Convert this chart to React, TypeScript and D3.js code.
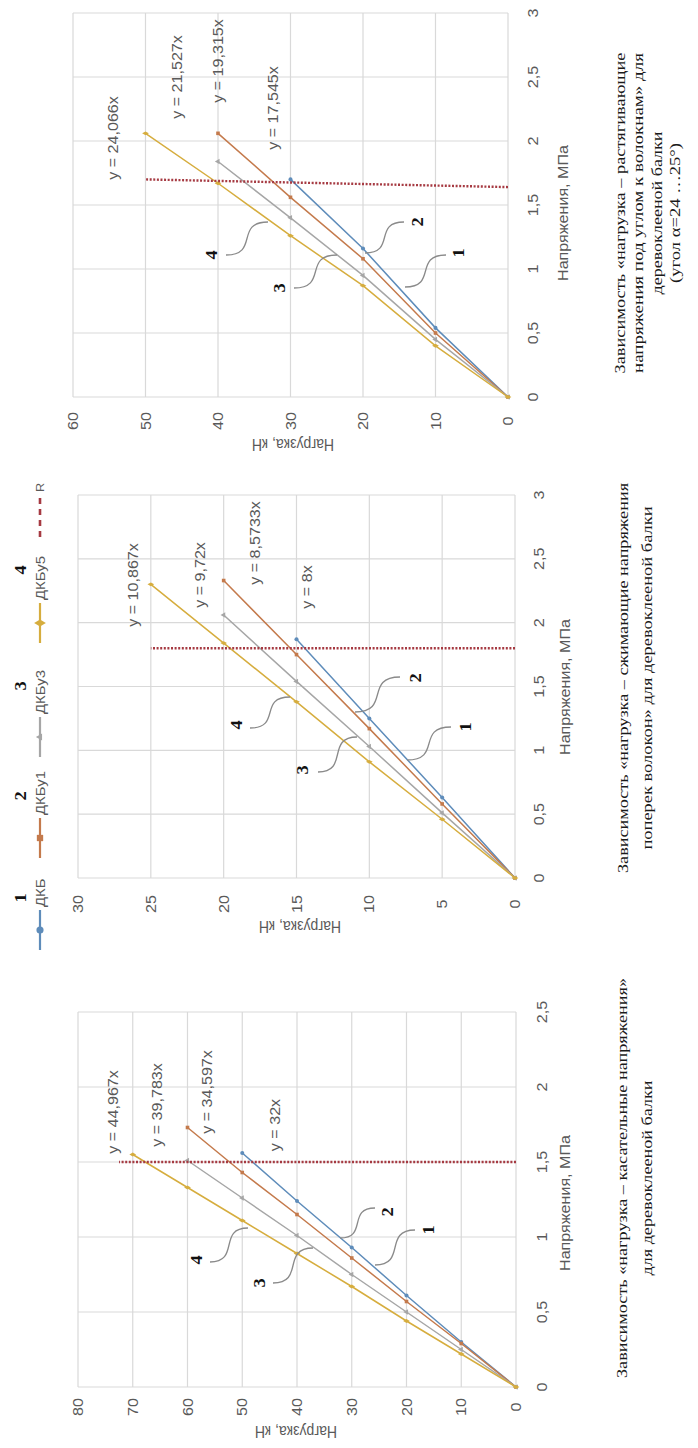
import React from "react";
import * as d3 from "d3";

// ---------- data ----------
const SERIES_NAMES = ["ДКБ", "ДКБу1", "ДКБу3", "ДКБу5"];
const SERIES_NUMS = ["1", "2", "3", "4"];

// Chart 1: растягивающие напряжения под углом к волокнам
const c1Loads = [0, 10, 20, 30, 40, 50];
const c1S1 = [0, 0.54, 1.16, 1.7];
const c1S2 = [0, 0.5, 1.08, 1.56, 2.06];
const c1S3 = [0, 0.45, 0.95, 1.4, 1.84];
const c1S4 = [0, 0.4, 0.87, 1.26, 1.67, 2.06];
const c1Trend = ["y = 17,545x", "y = 19,315x", "y = 21,527x", "y = 24,066x"];
const c1StressTicks = [0, 0.5, 1, 1.5, 2, 2.5, 3];
const c1LoadTicks = [0, 10, 20, 30, 40, 50, 60];
const c1RStress = [1.64, 1.7];
const c1RLoad = [0, 50];
const c1Title = [
  "Зависимость «нагрузка – растягивающие",
  "напряжения под углом к волокнам» для",
  "деревоклееной балки",
  "(угол α=24 …25°)",
];

// Chart 2: сжимающие напряжения поперек волокон
const c2Loads = [0, 5, 10, 15, 20, 25];
const c2S1 = [0, 0.63, 1.25, 1.87];
const c2S2 = [0, 0.58, 1.17, 1.75, 2.33];
const c2S3 = [0, 0.51, 1.03, 1.54, 2.06];
const c2S4 = [0, 0.46, 0.91, 1.38, 1.84, 2.3];
const c2Trend = ["y = 8x", "y = 8,5733x", "y = 9,72x", "y = 10,867x"];
const c2StressTicks = [0, 0.5, 1, 1.5, 2, 2.5, 3];
const c2LoadTicks = [0, 5, 10, 15, 20, 25, 30];
const c2RStress = [1.8, 1.8];
const c2RLoad = [0, 25];
const c2Title = [
  "Зависимость «нагрузка – сжимающие напряжения",
  "поперек волокон» для деревоклееной балки",
];

// Chart 3: касательные напряжения
const c3Loads = [0, 10, 20, 30, 40, 50, 60, 70];
const c3S1 = [0, 0.3, 0.61, 0.93, 1.24, 1.56];
const c3S2 = [0, 0.29, 0.57, 0.86, 1.15, 1.43, 1.73];
const c3S3 = [0, 0.25, 0.5, 0.75, 1.01, 1.26, 1.51];
const c3S4 = [0, 0.22, 0.44, 0.67, 0.89, 1.11, 1.33, 1.55];
const c3Trend = ["y = 32x", "y = 34,597x", "y = 39,783x", "y = 44,967x"];
const c3StressTicks = [0, 0.5, 1, 1.5, 2, 2.5];
const c3LoadTicks = [0, 10, 20, 30, 40, 50, 60, 70, 80];
const c3RStress = [1.5, 1.5];
const c3RLoad = [0, 72.5];
const c3Title = [
  "Зависимость «нагрузка – касательные напряжения»",
  "для деревоклееной балки",
];

// ---------- styles ----------
const COLORS = ["#5e8cba", "#c47a4c", "#a6a6a6", "#d6ad3e"];
const R_COLOR = "#a63a42";
const GRID = "#d9d9d9";
const TXT = "#595959";
const SANS = "'Liberation Sans', Arial, sans-serif";
const SERIF = "'Liberation Serif', 'Times New Roman', serif";
const SX = 1.15;
const SYMBOLS = [d3.symbolCircle, d3.symbolSquare, d3.symbolTriangle, d3.symbolDiamond];

type Pt = [number, number];
type Annot = { num: string; at: Pt; from: Pt; to: Pt };

interface ChartCfg {
  ty: number;
  stressMax: number;
  loadMax: number;
  uRange: [number, number];
  vRange: [number, number];
  stressTicks: number[];
  loadTicks: number[];
  loads: number[];
  series: number[][];
  trend: string[];
  trendPos: Pt[];
  rStress: number[];
  rLoad: number[];
  stressLabelX: number;
  stressTitle: Pt;
  loadLabelY: number;
  loadTitle: Pt;
  title: string[];
  titleX: number[];
  titleY: number;
  titleLen: number[];
  annots: Annot[];
  legend: boolean;
}

const charts: ChartCfg[] = [
  {
    ty: 470,
    stressMax: 3,
    loadMax: 60,
    uRange: [73, 457],
    vRange: [508, 73],
    stressTicks: c1StressTicks,
    loadTicks: c1LoadTicks,
    loads: c1Loads,
    series: [c1S1, c1S2, c1S3, c1S4],
    trend: c1Trend,
    trendPos: [[273, 108], [218, 61], [177, 77], [113, 138]],
    rStress: c1RStress,
    rLoad: c1RLoad,
    stressLabelX: 533,
    stressTitle: [563, 213],
    loadLabelY: 421,
    loadTitle: [293, 445],
    title: c1Title,
    titleX: [620, 638, 657, 675],
    titleY: 213,
    titleLen: [321, 320, 163, 140],
    annots: [
      { num: "2", at: [418, 222], from: [404, 222], to: [365, 253] },
      { num: "1", at: [459, 253], from: [446, 255], to: [405, 287] },
      { num: "4", at: [212, 255], from: [226, 255], to: [268, 222] },
      { num: "3", at: [280, 288], from: [294, 288], to: [337, 255] },
    ],
    legend: false,
  },
  {
    ty: 960,
    stressMax: 3,
    loadMax: 30,
    uRange: [82, 465],
    vRange: [515, 78],
    stressTicks: c2StressTicks,
    loadTicks: c2LoadTicks,
    loads: c2Loads,
    series: [c2S1, c2S2, c2S3, c2S4],
    trend: c2Trend,
    trendPos: [[307, 587], [255, 543], [200, 575], [133, 585]],
    rStress: c2RStress,
    rLoad: c2RLoad,
    stressLabelX: 539,
    stressTitle: [565, 687],
    loadLabelY: 904,
    loadTitle: [300, 927],
    title: c2Title,
    titleX: [623, 647],
    titleY: 678,
    titleLen: [390, 343],
    annots: [
      { num: "2", at: [416, 678], from: [400, 677], to: [355, 712] },
      { num: "1", at: [466, 727], from: [451, 727], to: [407, 760] },
      { num: "4", at: [237, 725], from: [250, 728], to: [290, 697] },
      { num: "3", at: [303, 770], from: [318, 772], to: [357, 737] },
    ],
    legend: true,
  },
  {
    ty: 1448,
    stressMax: 2.5,
    loadMax: 80,
    uRange: [61, 436],
    vRange: [516, 78],
    stressTicks: c3StressTicks,
    loadTicks: c3LoadTicks,
    loads: c3Loads,
    series: [c3S1, c3S2, c3S3, c3S4],
    trend: c3Trend,
    trendPos: [[275, 1125], [207, 1092], [157, 1105], [113, 1112]],
    rStress: c3RStress,
    rLoad: c3RLoad,
    stressLabelX: 542,
    stressTitle: [565, 1203],
    loadLabelY: 1407,
    loadTitle: [296, 1432],
    title: c3Title,
    titleX: [622, 647],
    titleY: 1178,
    titleLen: [400, 195],
    annots: [
      { num: "2", at: [388, 1212], from: [375, 1208], to: [340, 1238] },
      { num: "1", at: [429, 1230], from: [415, 1230], to: [375, 1265] },
      { num: "4", at: [197, 1260], from: [210, 1262], to: [248, 1228] },
      { num: "3", at: [260, 1283], from: [273, 1283], to: [313, 1248] },
    ],
    legend: false,
  },
];

// legend layout (image y of each item start) for the shared legend
const LEGEND_START_Y = [950, 858, 757, 643, 537];
const LEGEND_NUM_Y = [898, 796, 686, 570];

const fmt = (t: number) => String(t).replace(".", ",");

function T(props: {
  x: number;
  y: number;
  children: React.ReactNode;
  anchor?: string;
  size?: number;
  fill?: string;
  weight?: string | number;
  family?: string;
  rot?: boolean;
  len?: number;
}) {
  const { x, y, children, anchor = "middle", size = 14, fill = TXT, weight, family = SANS, rot, len } = props;
  const tr = rot
    ? `translate(${x},${y}) rotate(-90) scale(1,${SX})`
    : len
    ? `translate(${x},${y})`
    : `translate(${x},${y}) scale(${SX},1)`;
  return (
    <text
      transform={tr}
      textAnchor={anchor as any}
      dominantBaseline="central"
      fontSize={size}
      fill={fill}
      fontFamily={family}
      fontWeight={weight as any}
      textLength={len}
      lengthAdjust={len ? "spacingAndGlyphs" : undefined}
    >
      {children}
    </text>
  );
}

function Chart({ c }: { c: ChartCfg }) {
  const x = d3.scaleLinear().domain([0, c.stressMax]).range(c.uRange);
  const y = d3.scaleLinear().domain([0, c.loadMax]).range(c.vRange);
  // image coords -> local coords
  const L = (p: Pt): Pt => [c.ty - p[1], p[0]];
  const line = d3
    .line<[number, number]>()
    .x((d) => x(d[0]))
    .y((d) => y(d[1]));

  return (
    <g transform={`translate(0,${c.ty}) rotate(-90)`}>
      {/* gridlines */}
      {c.stressTicks.map((t) => (
        <line key={"gx" + t} x1={x(t)} x2={x(t)} y1={y(0)} y2={y(c.loadMax)} stroke={GRID} strokeWidth={1.2} />
      ))}
      {c.loadTicks.map((t) => (
        <line key={"gy" + t} x1={x(0)} x2={x(c.stressMax)} y1={y(t)} y2={y(t)} stroke={GRID} strokeWidth={1.2} />
      ))}
      {/* tick labels */}
      {c.stressTicks.map((t) => (
        <T key={"tx" + t} x={x(t)} y={c.stressLabelX}>
          {fmt(t)}
        </T>
      ))}
      {c.loadTicks.map((t) => (
        <T key={"ty" + t} x={c.ty - c.loadLabelY} y={y(t)}>
          {fmt(t)}
        </T>
      ))}
      {/* axis titles */}
      <T x={L(c.stressTitle)[0]} y={L(c.stressTitle)[1]}>
        Напряжения, МПа
      </T>
      <T x={L(c.loadTitle)[0]} y={L(c.loadTitle)[1]} rot>
        Нагрузка, кН
      </T>
      {/* series */}
      {c.series.map((s, i) => {
        const pts: [number, number][] = s.map((v, j) => [v, c.loads[j]]);
        const sym = d3.symbol().type(SYMBOLS[i]).size(13)();
        return (
          <g key={"s" + i}>
            <path d={line(pts) || ""} fill="none" stroke={COLORS[i]} strokeWidth={1.5} />
            {pts.map((p, j) => (
              <path key={j} d={sym || ""} transform={`translate(${x(p[0])},${y(p[1])})`} fill={COLORS[i]} />
            ))}
          </g>
        );
      })}
      {/* R line */}
      <path
        d={line(c.rStress.map((s, j) => [s, c.rLoad[j]] as [number, number])) || ""}
        fill="none"
        stroke={R_COLOR}
        strokeWidth={2.4}
        strokeDasharray="2 1.6"
      />
      {/* trendline equations */}
      {c.trend.map((t, i) => {
        const p = L(c.trendPos[i]);
        return (
          <T key={"tr" + i} x={p[0]} y={p[1]}>
            {t}
          </T>
        );
      })}
      {/* numbered annotations with curly leaders */}
      {c.annots.map((a, i) => {
        const dx = a.to[0] - a.from[0];
        const c1: Pt = [a.from[0] + dx * 0.8, a.from[1]];
        const c2: Pt = [a.to[0] - dx * 0.8, a.to[1]];
        const s = L(a.from);
        const k1 = L(c1);
        const k2 = L(c2);
        const e = L(a.to);
        const d = `M${s[0]},${s[1]} C${k1[0]},${k1[1]} ${k2[0]},${k2[1]} ${e[0]},${e[1]}`;
        const p = L(a.at);
        return (
          <g key={"a" + i}>
            <path d={d} fill="none" stroke="#8a8a8a" strokeWidth={1.3} />
            <T x={p[0]} y={p[1]} size={16} fill="#111" weight="bold" family={SERIF}>
              {a.num}
            </T>
          </g>
        );
      })}
      {/* chart title */}
      {c.title.map((t, i) => (
        <T key={"ti" + i} x={c.ty - c.titleY} y={c.titleX[i]} size={14.5} fill="#1a1a1a" family={SERIF} len={c.titleLen[i]}>
          {t}
        </T>
      ))}
      {c.legend && <Legend ty={c.ty} />}
    </g>
  );
}

function Legend({ ty }: { ty: number }) {
  const lineLen = 40;
  const v = 40;
  const items = SERIES_NAMES.map((n, i) => ({ name: n, color: COLORS[i], sym: SYMBOLS[i], u: ty - LEGEND_START_Y[i] }));
  const rU = ty - LEGEND_START_Y[4];
  return (
    <g>
      {items.map((it, i) => (
        <g key={i}>
          <line x1={it.u} x2={it.u + lineLen} y1={v} y2={v} stroke={it.color} strokeWidth={2.2} />
          <path d={d3.symbol().type(it.sym).size(i === 2 ? 22 : 40)() || ""} transform={`translate(${it.u + lineLen / 2},${v})`} fill={it.color} />
          <T x={it.u + lineLen + 3} y={v} anchor="start" size={13}>
            {it.name}
          </T>
          <T x={ty - LEGEND_NUM_Y[i]} y={21} size={16} fill="#111" weight="bold" family={SERIF}>
            {SERIES_NUMS[i]}
          </T>
        </g>
      ))}
      <line x1={rU} x2={rU + lineLen} y1={v} y2={v} stroke={R_COLOR} strokeWidth={2.6} strokeDasharray="6 5" />
      <T x={rU + lineLen + 5} y={v} anchor="start" size={11}>
        R
      </T>
    </g>
  );
}

export default function App() {
  return (
    <svg
      width={698}
      height={1448}
      viewBox="0 0 698 1448"
      style={{ position: "absolute", left: 0, top: 0, background: "#fff" }}
    >
      <rect width={698} height={1448} fill="#fff" />
      {charts.map((c, i) => (
        <Chart key={i} c={c} />
      ))}
    </svg>
  );
}
